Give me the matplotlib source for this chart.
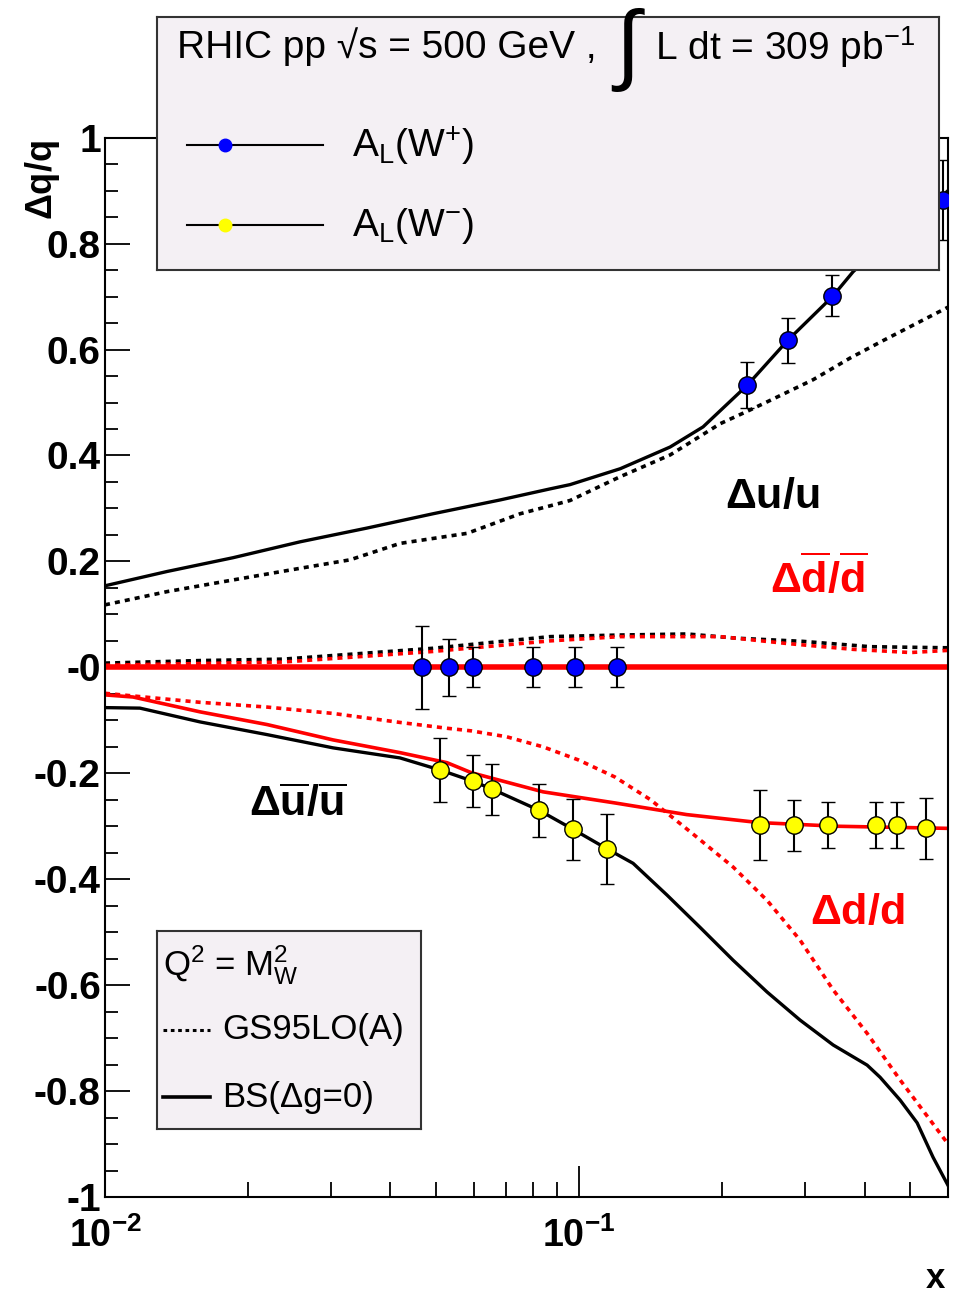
import matplotlib
matplotlib.use("Agg")
import matplotlib.pyplot as plt
from matplotlib.ticker import FixedLocator, LogLocator, NullFormatter

plt.rcParams['font.family'] = ['Liberation Sans', 'DejaVu Sans']
plt.rcParams['mathtext.fontset'] = 'custom'
plt.rcParams['mathtext.rm'] = 'Liberation Sans'
plt.rcParams['mathtext.it'] = 'Liberation Sans'
plt.rcParams['mathtext.bf'] = 'Liberation Sans:bold'

# BS (solid) and GS95LO(A) (dotted) curves, Q^2 = M_W^2
bs_u_x = [0.01, 0.01352, 0.01862, 0.02579, 0.03571, 0.0492, 0.0681, 0.0869, 0.0957,
          0.1221, 0.1556, 0.1826, 0.2265, 0.2752, 0.3423, 0.3785, 0.45, 0.52, 0.6]
bs_u_y = [0.154, 0.181, 0.207, 0.237, 0.263, 0.290, 0.316, 0.337, 0.345,
          0.375, 0.416, 0.454, 0.533, 0.617, 0.700, 0.747, 0.81, 0.85, 0.90]

gs_u_x = [0.01, 0.01352, 0.01862, 0.02579, 0.03287, 0.0419, 0.05804, 0.0751, 0.0869,
          0.0957, 0.1221, 0.1556, 0.1984, 0.2295, 0.2529, 0.3115, 0.373, 0.4379, 0.6]
gs_u_y = [0.118, 0.143, 0.165, 0.187, 0.203, 0.234, 0.253, 0.290, 0.305,
          0.315, 0.360, 0.401, 0.46, 0.486, 0.504, 0.543, 0.584, 0.617, 0.680]

gs_ub_x = [0.01, 0.01586, 0.02374, 0.03571, 0.0492, 0.0681, 0.0869, 0.1221, 0.169,
           0.2154, 0.297, 0.4111, 0.59, 0.6]
gs_ub_y = [0.008, 0.0128, 0.0155, 0.027, 0.036, 0.0487, 0.058, 0.061, 0.063,
           0.055, 0.049, 0.039, 0.037, 0.037]

gs_db_x = [0.01, 0.02374, 0.0492, 0.0869, 0.1221, 0.1984, 0.2747, 0.3785, 0.50, 0.6]
gs_db_y = [0.004, 0.010, 0.030, 0.050, 0.058, 0.058, 0.045, 0.034, 0.028, 0.032]

bs_db_x = [0.01, 0.6]
bs_db_y = [0.0, 0.0]

bs_ub_x = [0.01, 0.01185, 0.01586, 0.02197, 0.03027, 0.0419, 0.051, 0.0597, 0.0656,
           0.0824, 0.0972, 0.1147, 0.130, 0.1533, 0.180, 0.2113, 0.2492, 0.2925,
           0.3435, 0.4051, 0.4315, 0.4755, 0.5165, 0.558, 0.6]
bs_ub_y = [-0.076, -0.077, -0.103, -0.127, -0.152, -0.171, -0.194, -0.215, -0.230,
           -0.270, -0.306, -0.343, -0.370, -0.430, -0.491, -0.553, -0.613, -0.666,
           -0.713, -0.751, -0.774, -0.817, -0.860, -0.925, -0.978]

bs_d_x = [0.01, 0.01146, 0.01586, 0.02197, 0.03027, 0.0419, 0.05265, 0.0593, 0.0839,
          0.119, 0.1686, 0.239, 0.35, 0.6]
bs_d_y = [-0.052, -0.056, -0.084, -0.108, -0.137, -0.161, -0.180, -0.199, -0.235,
          -0.256, -0.278, -0.293, -0.300, -0.304]

gs_d_x = [0.01, 0.01244, 0.01586, 0.02197, 0.03027, 0.0419, 0.05265, 0.0593, 0.0703,
          0.0839, 0.0998, 0.119, 0.1415, 0.173, 0.2113, 0.2492, 0.2925, 0.3435,
          0.4051, 0.4755, 0.598]
gs_d_y = [-0.049, -0.057, -0.066, -0.075, -0.087, -0.104, -0.115, -0.120, -0.131,
          -0.150, -0.175, -0.207, -0.25, -0.313, -0.377, -0.440, -0.515, -0.609,
          -0.691, -0.779, -0.898]

# projected A_L points
wp_x = [0.04657, 0.05318, 0.05967, 0.07979, 0.09808, 0.1205, 0.2265, 0.2752, 0.3423, 0.5853]
wp_y = [0.0, 0.0, 0.0, 0.0, 0.0, 0.0, 0.533, 0.6175, 0.7018, 0.8825]
wp_err = [0.078, 0.054, 0.038, 0.038, 0.038, 0.038, 0.043, 0.042, 0.039, 0.075]

wm_x = [0.0510, 0.0597, 0.0656, 0.0824, 0.0972, 0.1147, 0.2405, 0.2839, 0.335, 0.4222, 0.4673, 0.540]
wm_y = [-0.194, -0.215, -0.230, -0.270, -0.306, -0.343, -0.298, -0.298, -0.298, -0.298, -0.298, -0.304]
wm_err = [0.060, 0.049, 0.048, 0.050, 0.058, 0.066, 0.066, 0.048, 0.044, 0.044, 0.044, 0.058]

ytick_vals = [-1, -0.8, -0.6, -0.4, -0.2, 0, 0.2, 0.4, 0.6, 0.8, 1]
ytick_labels = ["-1", "-0.8", "-0.6", "-0.4", "-0.2", "-0", "0.2", "0.4", "0.6", "0.8", "1"]
xtick_vals = [0.01, 0.1]
xtick_labels = [r"$\mathbf{10^{-2}}$", r"$\mathbf{10^{-1}}$"]

dot = (0, (1.4, 1.4))

fig = plt.figure(figsize=(9.59, 12.93), dpi=100)
ax = fig.add_axes([105 / 959, 1 - 1197 / 1293, 843 / 959, 1059.3 / 1293])

ax.plot(gs_u_x, gs_u_y, color="black", lw=2.6, ls=dot)
ax.plot(gs_ub_x, gs_ub_y, color="black", lw=2.6, ls=dot)
ax.plot(gs_db_x, gs_db_y, color="red", lw=2.6, ls=dot)
ax.plot(gs_d_x, gs_d_y, color="red", lw=2.6, ls=dot)
ax.plot(bs_u_x, bs_u_y, color="black", lw=2.4)
ax.plot(bs_ub_x, bs_ub_y, color="black", lw=2.4)
ax.plot(bs_d_x, bs_d_y, color="red", lw=2.6)
ax.plot(bs_db_x, bs_db_y, color="red", lw=4.0)

ax.errorbar(wp_x, wp_y, yerr=wp_err, fmt="o", ms=12.5, mfc="blue", mec="black", mew=1,
            ecolor="black", elinewidth=1.5, capsize=5, capthick=1.5, zorder=5)
ax.errorbar(wm_x, wm_y, yerr=wm_err, fmt="o", ms=12.5, mfc="yellow", mec="black", mew=1,
            ecolor="black", elinewidth=1.5, capsize=5, capthick=1.5, zorder=5)

ax.set_xscale("log")
ax.set_xlim(0.01, 0.6)
ax.set_ylim(-1, 1)
ax.xaxis.set_major_locator(FixedLocator(xtick_vals))
ax.set_xticklabels(xtick_labels)
ax.xaxis.set_minor_locator(LogLocator(base=10, subs=range(2, 10)))
ax.xaxis.set_minor_formatter(NullFormatter())
ax.set_yticks(ytick_vals)
ax.set_yticklabels(ytick_labels, fontweight="bold")
ax.yaxis.set_minor_locator(FixedLocator([v / 20 for v in range(-20, 21)]))
ax.tick_params(which="both", direction="in", top=False, right=False, width=1.3)
ax.tick_params(axis="y", which="major", length=18, labelsize=28, pad=3)
ax.tick_params(axis="y", which="minor", length=9.5)
ax.tick_params(axis="x", which="major", length=22, labelsize=27, pad=15)
ax.tick_params(axis="x", which="minor", length=11)
for s in ax.spines.values():
    s.set_linewidth(1.5)

ax.text(0.791, 0.661, r"$\mathbf{\Delta u/u}$", transform=ax.transAxes,
        ha="center", va="center", fontsize=31, color="black")
ax.text(0.847, 0.584, r"$\mathbf{\Delta\overline{d}/\overline{d}}$", transform=ax.transAxes,
        ha="center", va="center", fontsize=31, color="red")
ax.text(0.228, 0.370, r"$\mathbf{\Delta\overline{u}/\overline{u}}$", transform=ax.transAxes,
        ha="center", va="center", fontsize=31, color="black")
ax.text(0.892, 0.268, r"$\mathbf{\Delta d/d}$", transform=ax.transAxes,
        ha="center", va="center", fontsize=31, color="red")

fig.text(42 / 959, 1 - 180 / 1293, r"$\mathbf{\Delta q/q}$", rotation=90,
         ha="center", va="center", fontsize=26)
fig.text(935 / 959, 1 - 1278 / 1293, "x", ha="center", va="center",
         fontsize=25, fontweight="bold")

# upper legend panel
leg = fig.add_axes([157 / 959, 1 - 270 / 1293, 782 / 959, 253 / 1293])
leg.set_facecolor("#f4f0f4")
leg.set_xlim(0, 1)
leg.set_ylim(0, 1)
leg.set_xticks([])
leg.set_yticks([])
for s in leg.spines.values():
    s.set_linewidth(1.5)
    s.set_color("#333333")
leg.plot([0.0384, 0.087, 0.2123], [0.494] * 3, color="black", lw=1.5,
         marker="o", markevery=[1], ms=9, mfc="blue", mec="blue")
leg.plot([0.0384, 0.087, 0.2123], [0.178] * 3, color="black", lw=1.5,
         marker="o", markevery=[1], ms=9, mfc="yellow", mec="yellow")
leg.text(0.249, 0.49, r"A$_{\rm L}$(W$^{+}$)", fontsize=28, va="center")
leg.text(0.249, 0.174, r"A$_{\rm L}$(W$^{-}$)", fontsize=28, va="center")
fig.text(177 / 959, 1 - 47 / 1293, "RHIC pp \u221as = 500 GeV ,", fontsize=28, va="center")
fig.text(627 / 959, 1 - 50 / 1293, "\u222b", fontsize=64, ha="center", va="center")
fig.text(655 / 959, 1 - 47 / 1293, r"L dt = 309 pb$^{-1}$", fontsize=28, va="center")

# lower legend panel
leg2 = fig.add_axes([157 / 959, 1 - 1129 / 1293, 264 / 959, 198 / 1293])
leg2.set_facecolor("#f4f0f4")
leg2.set_xlim(0, 1)
leg2.set_ylim(0, 1)
leg2.set_xticks([])
leg2.set_yticks([])
for s in leg2.spines.values():
    s.set_linewidth(1.5)
    s.set_color("#333333")
leg2.text(0.0227, 0.828, r"Q$^{2}$ = M$^{2}_{\rm W}$", fontsize=25, va="center")
leg2.plot([0.0227, 0.2008], [0.5, 0.5], color="black", lw=2.2, ls=(0, (1.2, 1.2)))
leg2.plot([0.0227, 0.2008], [0.1616, 0.1616], color="black", lw=2.6)
leg2.text(0.246, 0.5, "GS95LO(A)", fontsize=25, va="center")
leg2.text(0.246, 0.1616, "BS(\u0394g=0)", fontsize=25, va="center")

fig.savefig("out.png", dpi=100)
